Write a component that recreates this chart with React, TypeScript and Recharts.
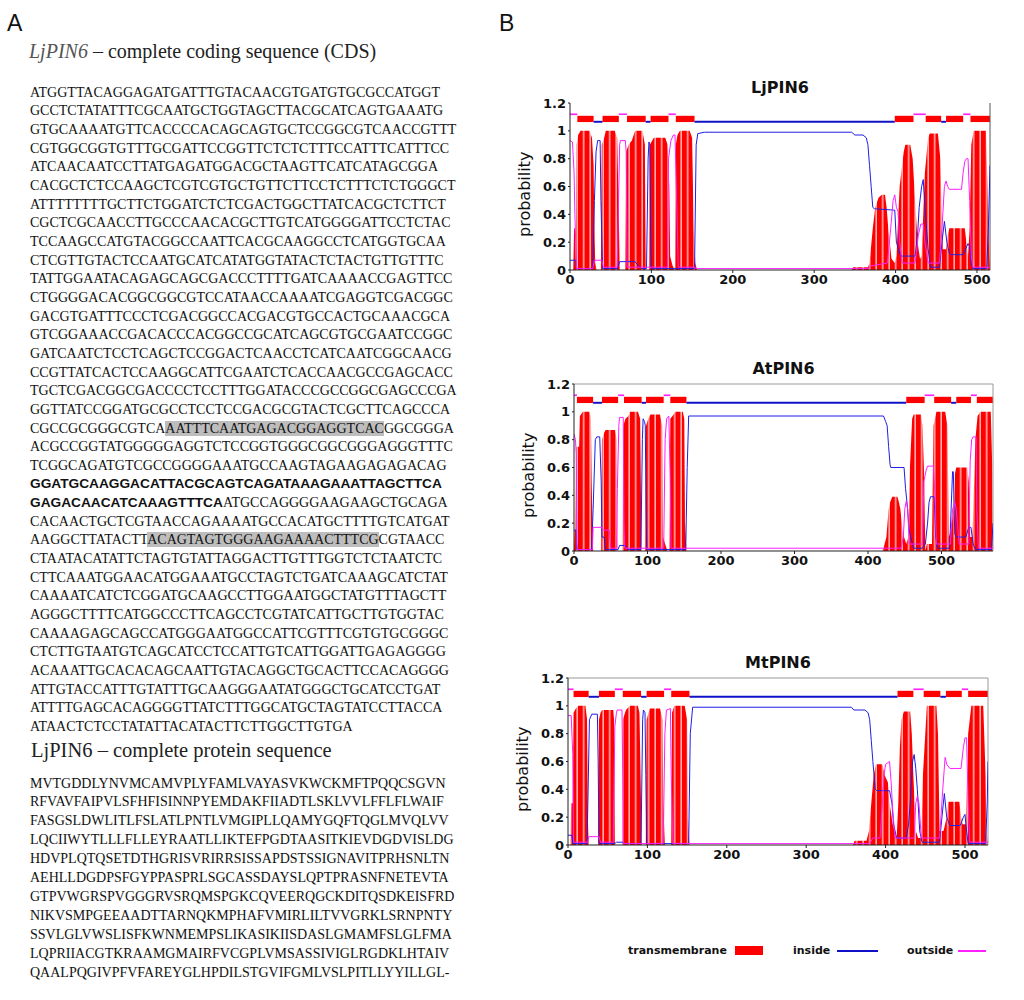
import React from 'react'
import { ComposedChart, Area, Line, XAxis, YAxis, ReferenceArea, ReferenceLine } from 'recharts'

type Pt = [number, number]
type Seg = [number, number, 'i' | 'o' | 'M']

// ---- panel A text ----
const cdsTitle = ['LjPIN6', ' – complete coding sequence (CDS)']
// [ ] = grey highlight, * * = bold sans
const cdsLines = [
  'ATGGTTACAGGAGATGATTTGTACAACGTGATGTGCGCCATGGT',
  'GCCTCTATATTTCGCAATGCTGGTAGCTTACGCATCAGTGAAATG',
  'GTGCAAAATGTTCACCCCACAGCAGTGCTCCGGCGTCAACCGTTT',
  'CGTGGCGGTGTTTGCGATTCCGGTTCTCTCTTTCCATTTCATTTCC',
  'ATCAACAATCCTTATGAGATGGACGCTAAGTTCATCATAGCGGA',
  'CACGCTCTCCAAGCTCGTCGTGCTGTTCTTCCTCTTTCTCTGGGCT',
  'ATTTTTTTTGCTTCTGGATCTCTCGACTGGCTTATCACGCTCTTCT',
  'CGCTCGCAACCTTGCCCAACACGCTTGTCATGGGGATTCCTCTAC',
  'TCCAAGCCATGTACGGCCAATTCACGCAAGGCCTCATGGTGCAA',
  'CTCGTTGTACTCCAATGCATCATATGGTATACTCTACTGTTGTTTC',
  'TATTGGAATACAGAGCAGCGACCCTTTTGATCAAAACCGAGTTCC',
  'CTGGGGACACGGCGGCGTCCATAACCAAAATCGAGGTCGACGGC',
  'GACGTGATTTCCCTCGACGGCCACGACGTGCCACTGCAAACGCA',
  'GTCGGAAACCGACACCCACGGCCGCATCAGCGTGCGAATCCGGC',
  'GATCAATCTCCTCAGCTCCGGACTCAACCTCATCAATCGGCAACG',
  'CCGTTATCACTCCAAGGCATTCGAATCTCACCAACGCCGAGCACC',
  'TGCTCGACGGCGACCCCTCCTTTGGATACCCGCCGGCGAGCCCGA',
  'GGTTATCCGGATGCGCCTCCTCCGACGCGTACTCGCTTCAGCCCA',
  'CGCCGCGGGCGTCA[AATTTCAATGAGACGGAGGTCAC]GGCGGGA',
  'ACGCCGGTATGGGGGAGGTCTCCGGTGGGCGGCGGGAGGGTTTC',
  'TCGGCAGATGTCGCCGGGGAAATGCCAAGTAGAAGAGAGACAG',
  '*GGATGCAAGGACATTACGCAGTCAGATAAAGAAATTAGCTTCA*',
  '*GAGACAACATCAAAGTTTCA*ATGCCAGGGGAAGAAGCTGCAGA',
  'CACAACTGCTCGTAACCAGAAAATGCCACATGCTTTTGTCATGAT',
  'AAGGCTTATACTT[ACAGTAGTGGGAAGAAAACTTTCG]CGTAACC',
  'CTAATACATATTCTAGTGTATTAGGACTTGTTTGGTCTCTAATCTC',
  'CTTCAAATGGAACATGGAAATGCCTAGTCTGATCAAAGCATCTAT',
  'CAAAATCATCTCGGATGCAAGCCTTGGAATGGCTATGTTTAGCTT',
  'AGGGCTTTTCATGGCCCTTCAGCCTCGTATCATTGCTTGTGGTAC',
  'CAAAAGAGCAGCCATGGGAATGGCCATTCGTTTCGTGTGCGGGC',
  'CTCTTGTAATGTCAGCATCCTCCATTGTCATTGGATTGAGAGGGG',
  'ACAAATTGCACACAGCAATTGTACAGGCTGCACTTCCACAGGGG',
  'ATTGTACCATTTGTATTTGCAAGGGAATATGGGCTGCATCCTGAT',
  'ATTTTGAGCACAGGGGTTATCTTTGGCATGCTAGTATCCTTACCA',
  'ATAACTCTCCTATATTACATACTTCTTGGCTTGTGA',
]
const protTitle = 'LjPIN6 – complete protein sequence'
const protLines = [
  'MVTGDDLYNVMCAMVPLYFAMLVAYASVKWCKMFTPQQCSGVN',
  'RFVAVFAIPVLSFHFISINNPYEMDAKFIIADTLSKLVVLFFLFLWAIF',
  'FASGSLDWLITLFSLATLPNTLVMGIPLLQAMYGQFTQGLMVQLVV',
  'LQCIIWYTLLLFLLEYRAATLLIKTEFPGDTAASITKIEVDGDVISLDG',
  'HDVPLQTQSETDTHGRISVRIRRSISSAPDSTSSIGNAVITPRHSNLTN',
  'AEHLLDGDPSFGYPPASPRLSGCASSDAYSLQPTPRASNFNETEVTA',
  'GTPVWGRSPVGGGRVSRQMSPGKCQVEERQGCKDITQSDKEISFRD',
  'NIKVSMPGEEAADTTARNQKMPHAFVMIRLILTVVGRKLSRNPNTY',
  'SSVLGLVWSLISFKWNMEMPSLIKASIKIISDASLGMAMFSLGLFMA',
  'LQPRIIACGTKRAAMGMAIRFVCGPLVMSASSIVIGLRGDKLHTAIV',
  'QAALPQGIVPFVFAREYGLHPDILSTGVIFGMLVSLPITLLYYILLGL-',
]

// ---- panel B: TMHMM posterior probabilities ----
const yTicks = [0, 0.2, 0.4, 0.6, 0.8, 1, 1.2]
const xTicks = [0, 100, 200, 300, 400, 500]

const ljTm: Pt[] = [[0,0],[4,0],[5,0.3],[6,0.3],[7,0.02],[8,0.9],[10,0.97],[13,1],[24,1],[27,0.95],[29,0.75],[30,0.3],[31,0.05],[33,0],
  [38,0],[39,0.9],[42,0.95],[44,1],[55,1],[58,0.95],[60,0.4],[61,0],
  [68,0],[69,0.85],[72,0.9],[76,0.93],[80,1],[89,1],[92,0.9],[93,0],
  [97,0],[98,0.9],[100,0.92],[103,0.95],[117,0.95],[120,0.9],[122,0.6],[123,0.1],[126,0.03],[129,0],
  [130,0.9],[132,0.97],[135,1],[147,1],[150,0.95],[152,0.3],[154,0.05],[156,0],
  [346,0],[348,0.02],[366,0.02],[368,0.05],[372,0.3],[375,0.45],[379,0.52],[383,0.54],[387,0.54],[389,0.45],[391,0.3],[395,0.08],[399,0.05],
  [401,0.1],[405,0.6],[410,0.85],[412,0.9],[418,0.9],[421,0.8],[424,0.5],[427,0.2],[430,0.08],[432,0.1],[436,0.7],[440,0.95],[442,0.98],[452,0.98],[455,0.8],[458,0.15],[462,0.15],[464,0.25],[466,0.3],[485,0.3],[487,0.2],[489,0.1],[491,0.3],[493,0.9],[496,1],[511,1],[513,0.6],[515,0.1],[516,0]]
const ljIn: Pt[] = [[0,0.07],[7,0.07],[8,0.01],[28,0.01],[30,0.5],[32,0.85],[34,0.93],[37,0.93],[38,0.5],[40,0.01],[58,0.01],[61,0.06],[80,0.06],[84,0.03],[88,0.01],[94,0.01],[96,0.8],[97,0.92],[98,0.9],[99,0.3],[100,0.01],[153,0.01],[155,0.9],[157,0.98],[165,0.99],[346,0.99],[350,0.97],[360,0.97],[364,0.95],[366,0.9],[368,0.75],[370,0.6],[372,0.45],[374,0.44],[399,0.43],[401,0.2],[405,0.12],[407,0.1],[424,0.1],[427,0.25],[429,0.45],[432,0.6],[434,0.65],[436,0.45],[440,0.15],[443,0.02],[454,0.02],[457,0.2],[460,0.35],[463,0.2],[466,0.12],[468,0.11],[483,0.11],[486,0.15],[489,0.19],[491,0.17],[493,0.05],[495,0.01],[512,0.01],[514,0.3],[516,0.75]]
const ljOut: Pt[] = [[0,0.93],[3,0.92],[5,0.7],[6,0.4],[8,0.01],[28,0.01],[30,0.07],[39,0.07],[41,0.02],[58,0.02],[60,0.6],[61,0.9],[62,0.93],[68,0.93],[69,0.85],[70,0.02],[120,0.02],[121,0.8],[124,0.93],[127,0.97],[129,0.97],[131,0.5],[133,0.02],[153,0.02],[155,0.01],[366,0.01],[370,0.03],[390,0.05],[394,0.3],[397,0.5],[399,0.54],[401,0.45],[403,0.42],[405,0.2],[408,0.05],[424,0.05],[428,0.25],[431,0.33],[434,0.33],[436,0.2],[440,0.05],[454,0.05],[457,0.3],[460,0.6],[462,0.64],[464,0.6],[466,0.58],[481,0.58],[483,0.7],[485,0.78],[487,0.8],[489,0.8],[491,0.5],[493,0.1],[495,0.02],[516,0.02]]
const ljTopo: Seg[] = [[0,9,'o'],[9,29,'M'],[29,40,'i'],[40,60,'M'],[60,70,'o'],[70,93,'M'],[93,99,'i'],[99,121,'M'],[121,130,'o'],[130,153,'M'],[153,399,'i'],[399,422,'M'],[422,437,'o'],[437,456,'M'],[456,462,'i'],[462,483,'M'],[483,492,'o'],[492,516,'M']]

const atTm: Pt[] = [[0,0],[1,0.15],[2,0.15],[3,0.75],[7,0.75],[8,0.97],[12,1],[21,1],[23,0.95],[24,0.5],[26,0],
  [37,0],[38,0.8],[41,0.85],[43,0.87],[56,0.87],[58,0.8],[59,0],
  [66,0],[67,0.9],[70,0.95],[74,0.97],[76,1],[87,1],[90,0.95],[92,0],
  [97,0],[98,0.9],[101,0.95],[104,0.98],[117,0.98],[120,0.9],[121,0.1],[124,0.05],[127,0],
  [130,0],[131,0.95],[134,0.97],[138,1],[148,1],[150,0.95],[151,0.2],[153,0],
  [419,0],[421,0.02],[425,0.1],[428,0.3],[430,0.35],[433,0.39],[440,0.39],[442,0.35],[444,0.3],[447,0.15],[449,0.1],[452,0.05],[455,0.1],[457,0.6],[460,0.95],[462,0.98],[472,0.98],[474,0.9],[476,0.6],[478,0],[480,0.05],[487,0.05],[489,0.9],[491,0.95],[493,1],[505,1],[508,0.9],[510,0.1],[513,0.15],[516,0.3],[518,0.55],[520,0.6],[535,0.6],[537,0.5],[539,0.1],[542,0.1],[545,0.6],[546,0.8],[549,0.97],[553,1],[567,1],[569,0.6],[570,0]]
const atIn: Pt[] = [[0,0.15],[3,0.15],[4,0.01],[24,0.01],[26,0.3],[29,0.8],[31,0.82],[35,0.82],[37,0.5],[38,0.1],[41,0.1],[43,0.01],[60,0.01],[62,0.04],[70,0.04],[73,0.01],[91,0.01],[93,0.8],[94,0.95],[96,0.93],[97,0.9],[98,0.3],[99,0.01],[152,0.01],[154,0.6],[156,0.97],[421,0.97],[424,0.93],[426,0.9],[428,0.75],[430,0.62],[431,0.6],[449,0.6],[451,0.45],[453,0.35],[456,0.15],[458,0.1],[462,0.02],[474,0.02],[478,0.05],[481,0.2],[483,0.35],[485,0.39],[490,0.39],[492,0.1],[495,0.02],[511,0.02],[513,0.3],[515,0.57],[516,0.57],[518,0.12],[520,0.1],[533,0.1],[537,0.17],[540,0.17],[543,0.05],[546,0.01],[568,0.01],[570,0.2]]
const atOut: Pt[] = [[0,0.84],[2,0.8],[3,0.7],[4,0.05],[5,0.01],[25,0.01],[26,0.17],[38,0.17],[40,0.15],[48,0.15],[50,0.02],[58,0.02],[59,0.45],[61,0.9],[62,0.96],[67,0.96],[68,0.2],[69,0.02],[122,0.02],[124,0.8],[126,0.95],[129,0.97],[131,0.5],[132,0.02],[153,0.02],[445,0.02],[448,0.1],[450,0.3],[452,0.36],[454,0.3],[456,0.05],[474,0.05],[476,0.5],[479,0.58],[481,0.61],[489,0.61],[491,0.4],[493,0.05],[512,0.05],[515,0.3],[518,0.35],[520,0.3],[524,0.05],[537,0.05],[539,0.65],[541,0.8],[543,0.82],[547,0.82],[548,0.3],[550,0.02],[570,0.02]]
const atTopo: Seg[] = [[0,4,'o'],[4,26,'M'],[26,38,'i'],[38,60,'M'],[60,68,'o'],[68,92,'M'],[92,98,'i'],[98,122,'M'],[122,131,'o'],[131,153,'M'],[153,452,'i'],[452,477,'M'],[477,490,'o'],[490,513,'M'],[513,520,'i'],[520,540,'M'],[540,548,'o'],[548,570,'M']]

const mtTm: Pt[] = [[0,0],[3,0],[4,0.3],[6,0.3],[7,0.95],[10,0.98],[13,1],[22,1],[24,0.9],[25,0.2],[26,0],
  [38,0],[39,0.9],[41,0.95],[43,0.97],[57,0.97],[58,0.9],[59,0],
  [68,0],[69,0.9],[73,0.97],[78,1],[88,1],[90,0.95],[93,0],
  [98,0],[99,0.9],[103,0.98],[116,0.98],[119,0.9],[120,0.3],[122,0],
  [130,0],[131,0.95],[134,1],[147,1],[150,0.9],[151,0.2],[153,0],
  [359,0],[361,0.03],[376,0.03],[379,0.1],[382,0.3],[385,0.5],[388,0.58],[396,0.58],[399,0.5],[403,0.45],[405,0.3],[409,0.15],[414,0.05],[416,0.3],[418,0.7],[420,0.9],[423,0.96],[431,0.96],[433,0.8],[435,0.5],[438,0.1],[441,0.05],[445,0.05],[447,0.5],[450,0.8],[452,1],[464,1],[466,0.8],[468,0.1],[473,0.1],[477,0.2],[479,0.31],[493,0.31],[495,0.2],[497,0.15],[501,0.15],[504,0.8],[508,1],[523,1],[526,0.5],[527,0.1],[529,0]]
const mtIn: Pt[] = [[0,0.07],[5,0.07],[6,0.01],[24,0.01],[25,0.3],[27,0.9],[30,0.94],[37,0.94],[38,0.6],[39,0.01],[59,0.01],[61,0.02],[69,0.02],[70,0.01],[92,0.01],[94,0.9],[95,0.97],[97,0.95],[98,0.5],[99,0.01],[152,0.01],[154,0.8],[157,0.99],[357,0.99],[360,0.97],[374,0.97],[378,0.95],[380,0.9],[382,0.75],[384,0.6],[387,0.4],[389,0.39],[405,0.39],[408,0.3],[410,0.15],[412,0.1],[414,0.05],[426,0.05],[429,0.15],[431,0.3],[434,0.6],[436,0.65],[438,0.55],[440,0.4],[443,0.1],[446,0.02],[468,0.02],[471,0.2],[474,0.37],[477,0.2],[481,0.14],[494,0.14],[498,0.2],[500,0.22],[502,0.1],[504,0.01],[526,0.01],[528,0.3],[529,0.6]]
const mtOut: Pt[] = [[0,0.93],[4,0.93],[6,0.65],[7,0.02],[25,0.02],[26,0.06],[39,0.06],[41,0.02],[57,0.02],[59,0.85],[61,0.95],[62,0.97],[68,0.97],[69,0.5],[70,0.01],[120,0.01],[122,0.8],[124,0.97],[129,0.98],[130,0.5],[132,0.01],[380,0.01],[384,0.05],[393,0.05],[396,0.3],[398,0.5],[400,0.58],[405,0.6],[407,0.45],[409,0.25],[412,0.05],[436,0.05],[438,0.3],[440,0.35],[442,0.3],[445,0.05],[468,0.05],[472,0.4],[475,0.63],[477,0.58],[481,0.55],[495,0.55],[498,0.7],[500,0.77],[502,0.77],[504,0.3],[506,0.02],[529,0.02]]
const mtTopo: Seg[] = [[0,7,'o'],[7,26,'M'],[26,39,'i'],[39,59,'M'],[59,69,'o'],[69,92,'M'],[92,99,'i'],[99,121,'M'],[121,130,'o'],[130,153,'M'],[153,415,'i'],[415,435,'M'],[435,448,'o'],[448,469,'M'],[469,476,'i'],[476,496,'M'],[496,504,'o'],[504,529,'M']]

const RED = '#ff0000'
const BLUE = '#1f1fe6'
const MAGENTA = '#ff1fff'
const sans = '"DejaVu Sans", Verdana, sans-serif'
const serif = '"Liberation Serif", "Times New Roman", serif'

const rows = (pts: Pt[]) => pts.map(([x, y]) => ({ x, y }))

// topology band levels
const band = {
  M: { y1: 1.063, y2: 1.108, fill: RED },
  i: { y1: 1.058, y2: 1.072, fill: '#1010c8' },
  o: { y1: 1.113, y2: 1.125, fill: MAGENTA },
}

interface ChartProps {
  id: string
  title: string
  length: number
  tm: Pt[]
  inside: Pt[]
  outside: Pt[]
  topo: Seg[]
  left: number
  top: number
  width: number
  marginLeft: number
  frame: boolean
}

function TmhmmChart({ id, title, length, tm, inside, outside, topo, left, top, width, marginLeft, frame }: ChartProps) {
  const tick = { fontSize: 13, fontWeight: 700, fill: '#111', fontFamily: sans }
  const plotLeft = marginLeft + 60
  const plotW = width - plotLeft - 10
  return (
    <div style={{ position: 'absolute', left, top, width, height: 220 }}>
      <div style={{
        position: 'absolute', left: plotLeft, width: plotW, top: 3, textAlign: 'center',
        fontFamily: sans, fontWeight: 700, fontSize: 16, color: '#111', lineHeight: '20px',
      }}>{title}</div>
      <div style={{
        position: 'absolute', left: plotLeft - 85, top: 112, width: 80, textAlign: 'center',
        transform: 'rotate(-90deg)', fontFamily: sans, fontSize: 16, color: '#111', lineHeight: '20px',
      }}>probability</div>
      <ComposedChart width={width} height={220} margin={{ top: 28, right: 10, bottom: 0, left: marginLeft }}>
        <defs>
          <pattern id={`stripes-${id}`} patternUnits="userSpaceOnUse" width={6.5} height={10}>
            <rect width={6.5} height={10} fill={RED} />
            <rect x={5} width={1.4} height={10} fill="#ffc4c4" />
          </pattern>
        </defs>
        <XAxis
          type="number" dataKey="x" domain={[0, length]} ticks={xTicks} allowDataOverflow
          height={25} tick={tick} tickSize={3} stroke="#222"
        />
        <YAxis
          type="number" domain={[0, 1.2]} ticks={yTicks} allowDataOverflow
          width={60} tick={tick} tickSize={2} stroke="#222"
        />
        {frame && <ReferenceLine y={1.2} stroke="#999" />}
        <ReferenceLine x={length} stroke={frame ? '#999' : '#555'} />
        <Area
          data={rows(tm)} dataKey="y" type="linear" fill={`url(#stripes-${id})`} fillOpacity={1}
          stroke="none" isAnimationActive={false}
        />
        <Line data={rows(inside)} dataKey="y" type="linear" stroke={BLUE} strokeWidth={1} dot={false} isAnimationActive={false} />
        <Line data={rows(outside)} dataKey="y" type="linear" stroke={MAGENTA} strokeWidth={1} dot={false} isAnimationActive={false} />
        {topo.map(([a, b, k], i) => (
          <ReferenceArea
            key={i} x1={a} x2={b} y1={band[k].y1} y2={band[k].y2}
            fill={band[k].fill} fillOpacity={1} stroke="none"
          />
        ))}
      </ComposedChart>
    </div>
  )
}

function SeqLine({ text }: { text: string }) {
  const parts = text.split(/(\[[^\]]*\]|\*[^*]*\*)/).filter(Boolean)
  return (
    <div>
      {parts.map((p, i) => {
        if (p.startsWith('[')) return <span key={i} style={{ background: '#bdbdbd' }}>{p.slice(1, -1)}</span>
        if (p.startsWith('*')) return (
          <span key={i} style={{ fontFamily: '"Liberation Sans", Arial, sans-serif', fontWeight: 700, fontSize: 13.7 }}>
            {p.slice(1, -1)}
          </span>
        )
        return <span key={i}>{p}</span>
      })}
    </div>
  )
}

export default function App() {
  return (
    <div style={{ position: 'absolute', left: 0, top: 0, width: 1024, height: 1000, background: '#fff', overflow: 'hidden' }}>
      <div style={{ position: 'absolute', left: 7, top: 12, fontFamily: '"Liberation Sans", Arial, sans-serif', fontSize: 23, lineHeight: '23px', color: '#111' }}>A</div>
      <div style={{ position: 'absolute', left: 499, top: 12, fontFamily: '"Liberation Sans", Arial, sans-serif', fontSize: 23, lineHeight: '23px', color: '#111' }}>B</div>

      <div style={{ position: 'absolute', left: 29, top: 38, fontFamily: serif, fontSize: 20, lineHeight: '26px', color: '#222', whiteSpace: 'pre' }}>
        <i style={{ color: '#555' }}>{cdsTitle[0]}</i>{cdsTitle[1]}
      </div>
      <div style={{ position: 'absolute', left: 30, top: 83.7, fontFamily: serif, fontSize: 14, lineHeight: '18.65px', color: '#111', whiteSpace: 'pre' }}>
        {cdsLines.map((l, i) => <SeqLine key={i} text={l} />)}
      </div>
      <div style={{ position: 'absolute', left: 31, top: 737, fontFamily: serif, fontSize: 20.5, lineHeight: '26px', color: '#222', whiteSpace: 'pre' }}>
        {protTitle}
      </div>
      <div style={{ position: 'absolute', left: 30, top: 774.5, fontFamily: serif, fontSize: 14, lineHeight: '18.9px', color: '#111', whiteSpace: 'pre' }}>
        {protLines.map((l, i) => <div key={i}>{l}</div>)}
      </div>

      <TmhmmChart id="lj" title="LjPIN6" length={516} tm={ljTm} inside={ljIn} outside={ljOut} topo={ljTopo}
        left={500} top={75} width={500} marginLeft={10} frame={false} />
      <TmhmmChart id="at" title="AtPIN6" length={570} tm={atTm} inside={atIn} outside={atOut} topo={atTopo}
        left={500} top={356} width={503} marginLeft={14} frame />
      <TmhmmChart id="mt" title="MtPIN6" length={529} tm={mtTm} inside={mtIn} outside={mtOut} topo={mtTopo}
        left={500} top={650} width={498} marginLeft={8} frame />

      <div style={{ position: 'absolute', left: 0, top: 941, width: 1024, height: 20, fontFamily: sans, fontWeight: 700, fontSize: 11, color: '#111', lineHeight: '20px' }}>
        <span style={{ position: 'absolute', left: 628 }}>transmembrane</span>
        <span style={{ position: 'absolute', left: 735, top: 5, width: 28, height: 9, background: RED }} />
        <span style={{ position: 'absolute', left: 793 }}>inside</span>
        <span style={{ position: 'absolute', left: 837, top: 9, width: 41, height: 2, background: '#1010c8' }} />
        <span style={{ position: 'absolute', left: 907 }}>outside</span>
        <span style={{ position: 'absolute', left: 958, top: 9, width: 28, height: 2, background: MAGENTA }} />
      </div>
    </div>
  )
}
